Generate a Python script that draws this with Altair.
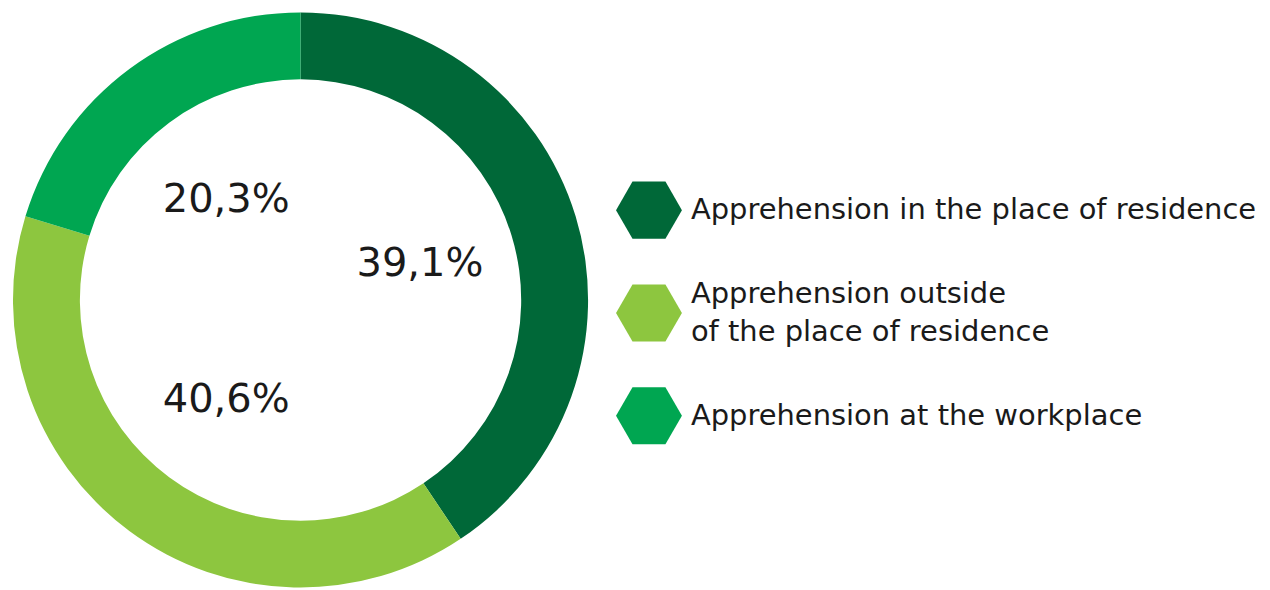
import altair as alt
import pandas as pd

categories = [
    "Apprehension in the place of residence",
    "Apprehension outside|of the place of residence",
    "Apprehension at the workplace",
]
# arc shares as drawn in the picture (percent of the ring)
shares = [40.6, 39.1, 20.3]
# printed labels
labels = ["39,1%", "40,6%", "20,3%"]
colors = ["#006838", "#8DC63F", "#00A651"]

LINE_H = 38
df = pd.DataFrame({
    "cat": categories,
    "share": shares,
    "label": labels,
    "idx": list(range(len(categories))),
})
# shift multi-line legend labels up so the text block is centred on its symbol
df["yo"] = [-(c.count("|")) * LINE_H / 2 for c in categories]

FONT = "DejaVu Sans"
HEX = "M-1,0L-0.5,-0.866L0.5,-0.866L1,0L0.5,0.866L-0.5,0.866Z"

color_scale = alt.Scale(domain=categories, range=colors)

base = alt.Chart(df).encode(
    theta=alt.Theta("share:Q", stack=True),
    order=alt.Order("idx:Q"),
)

ring = base.mark_arc(radius=288, radius2=221).encode(
    color=alt.Color("cat:N", scale=color_scale, legend=None)
)

pct = base.mark_text(radius=125, font=FONT, fontSize=40, color="#1a1a1a").encode(
    text="label:N"
)

donut = alt.layer(ring, pct).properties(width=586, height=584)

leg_base = alt.Chart(df).encode(
    y=alt.Y("cat:N", sort=categories, axis=None,
            scale=alt.Scale(type="point", domain=categories, range=[202, 408], padding=0)),
)

leg_sym = leg_base.mark_point(shape=HEX, size=4356, filled=True, opacity=1, strokeWidth=0).encode(
    x=alt.value(56),
    color=alt.Color("cat:N", scale=color_scale, legend=None),
)

leg_txt = leg_base.mark_text(
    align="left", baseline="middle", font=FONT, fontSize=29, color="#1a1a1a",
    lineBreak="|", lineHeight=LINE_H,
).encode(
    x=alt.value(98),
    yOffset=alt.YOffset("yo:Q", scale=None),
    text="cat:N",
)

legend = alt.layer(leg_sym, leg_txt).properties(width=670, height=584)

chart = alt.hconcat(donut, legend, spacing=0).properties(padding=0).configure_view(stroke=None)

chart.save("out.html", embed_options={"renderer": "svg", "actions": False})
